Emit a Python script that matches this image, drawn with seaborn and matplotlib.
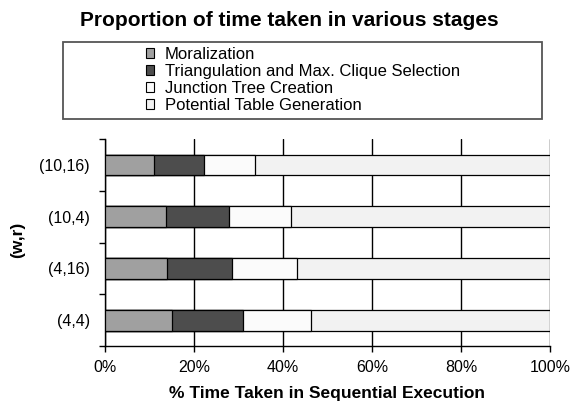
import matplotlib
matplotlib.use('Agg')
import matplotlib.pyplot as plt
import seaborn as sns
import pandas as pd
from matplotlib.patches import Patch, Rectangle
from matplotlib.ticker import FixedLocator, PercentFormatter

# Data (percent of sequential time)
configs = ['(10,16)', '(10,4)', '(4,16)', '(4,4)']
stages = ['Moralization', 'Triangulation and Max. Clique Selection',
          'Junction Tree Creation', 'Potential Table Generation']
moralization = [10.9, 13.8, 13.9, 15.1]
triangulation = [11.4, 14.1, 14.7, 15.8]
junction_tree = [11.3, 14.0, 14.5, 15.4]
potential_table = [66.4, 58.1, 56.9, 53.7]
stage_colors = ['#a0a0a0', '#4d4d4d', '#fbfbfb', '#f2f2f2']

df = pd.DataFrame({'config': configs,
                   stages[0]: moralization,
                   stages[1]: triangulation,
                   stages[2]: junction_tree,
                   stages[3]: potential_table})

sns.set_style('white')
plt.rcParams['font.family'] = ['Liberation Sans', 'DejaVu Sans']
plt.rcParams['text.color'] = 'black'
plt.rcParams['axes.labelcolor'] = 'black'
plt.rcParams['xtick.color'] = 'black'
plt.rcParams['ytick.color'] = 'black'

fig = plt.figure(figsize=(5.72, 4.13), dpi=100)
ax = fig.add_axes([0.1836, 0.1622, 0.7779, 0.5005])

# stacked bars: draw cumulative totals, widest first
cum = df[stages].cumsum(axis=1)
for stage, color in reversed(list(zip(stages, stage_colors))):
    sns.barplot(x=cum[stage], y=df['config'], order=configs, orient='h',
                color=color, edgecolor='black', linewidth=0.9, width=0.4,
                saturation=1, ax=ax, zorder=3)

ax.set_xlim(0, 100)
ax.set_ylim(3.5, -0.5)
ax.xaxis.set_major_locator(FixedLocator([0, 20, 40, 60, 80, 100]))
ax.xaxis.set_major_formatter(PercentFormatter(decimals=0))
ax.grid(axis='x', color='black', linewidth=1.0, zorder=0)
ax.grid(axis='y', visible=False)
ax.set_axisbelow(True)
for side in ['top', 'right']:
    ax.spines[side].set_visible(False)
for side in ['left', 'bottom']:
    ax.spines[side].set_color('black')
    ax.spines[side].set_linewidth(1.0)

ax.yaxis.set_minor_locator(FixedLocator([-0.5, 0.5, 1.5, 2.5, 3.5]))
ax.tick_params(axis='y', which='major', length=0, pad=11, labelsize=11.5)
ax.tick_params(axis='y', which='minor', left=True, length=4.5, width=1, color='black')
ax.tick_params(axis='x', which='major', bottom=True, length=4, width=1, color='black',
               labelsize=11.5, pad=6)

ax.set_xlabel('% Time Taken in Sequential Execution', fontsize=12.5,
              fontweight='bold', labelpad=8)
ax.set_ylabel('')
fig.text(18 / 572, 1 - 240 / 413, '(w,r)', rotation=90, fontsize=12.5,
         fontweight='bold', ha='center', va='center')

fig.text(289 / 572, 1 - 20 / 413, 'Proportion of time taken in various stages',
         fontsize=15, fontweight='bold', ha='center', va='center')

# legend frame spanning the top block
box = Rectangle((63 / 572, 1 - 119 / 413), (542 - 63) / 572, (119 - 42) / 413,
                transform=fig.transFigure, facecolor='white', edgecolor='#555555',
                linewidth=1.3, zorder=0)
fig.patches.append(box)
handles = [Patch(facecolor=c, edgecolor='black', linewidth=0.8) for c in stage_colors]
fig.legend(handles, stages, loc='center', bbox_to_anchor=(303 / 572, 1 - 80 / 413),
           frameon=False, fontsize=12, handlelength=0.5, handleheight=0.5,
           handletextpad=0.65, labelspacing=0.12, borderpad=0)

fig.savefig('out.png', dpi=100)
